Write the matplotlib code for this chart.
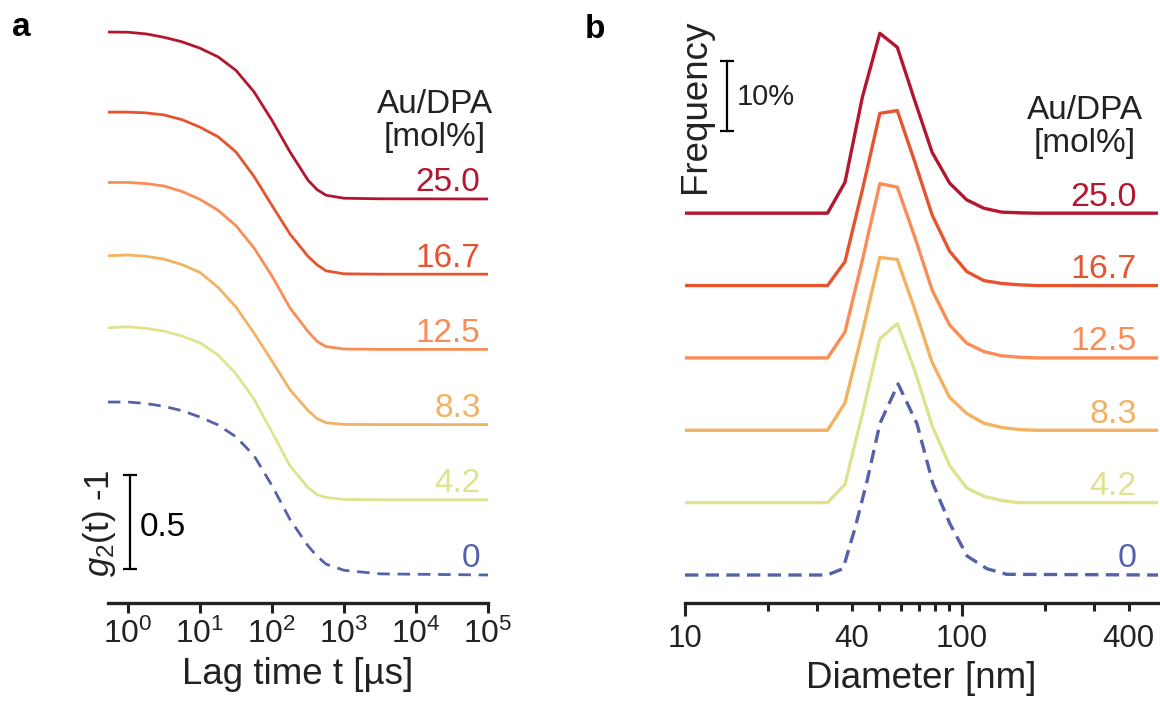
import numpy as np
import matplotlib
matplotlib.use('Agg')
import matplotlib.pyplot as plt
from matplotlib.ticker import FixedLocator, NullLocator

plt.rcParams['font.family'] = ['Liberation Sans', 'DejaVu Sans']
plt.rcParams['mathtext.fontset'] = 'custom'
plt.rcParams['mathtext.rm'] = 'Liberation Sans'
plt.rcParams['mathtext.it'] = 'Liberation Sans:italic'

# ---- data ----
labels = ['25.0', '16.7', '12.5', '8.3', '4.2', '0']
colors = ['#b3162f', '#e5532f', '#fa8c56', '#f3b262', '#dfe38f', '#5661aa']

# panel a: g2(t)-1 vs lag time [us]
lag = [0.525, 1, 1.78, 3.16, 5.62, 10, 17.8, 31.6, 56.2, 100, 178, 316, 422, 562, 1000, 3162, 100000]
g2_25 = [0.888, 0.887, 0.878, 0.860, 0.836, 0.802, 0.756, 0.684, 0.570, 0.418, 0.250, 0.100, 0.050, 0.020, 0.004, 0.001, 0]
g2_16 = [0.862, 0.862, 0.858, 0.847, 0.822, 0.782, 0.731, 0.650, 0.520, 0.365, 0.213, 0.095, 0.050, 0.018, 0.002, 0, 0]
g2_12 = [0.888, 0.888, 0.882, 0.869, 0.840, 0.798, 0.740, 0.658, 0.540, 0.390, 0.220, 0.095, 0.043, 0.015, 0.002, 0, 0]
g2_8 = [0.898, 0.902, 0.895, 0.880, 0.851, 0.809, 0.730, 0.625, 0.487, 0.338, 0.185, 0.075, 0.032, 0.010, 0.001, 0, 0]
g2_4 = [0.915, 0.920, 0.912, 0.897, 0.871, 0.835, 0.770, 0.670, 0.535, 0.360, 0.180, 0.065, 0.028, 0.012, 0.002, 0, 0]
g2_0 = [0.920, 0.920, 0.912, 0.897, 0.874, 0.840, 0.798, 0.735, 0.635, 0.475, 0.295, 0.155, 0.100, 0.058, 0.025, 0.006, 0]
g2_all = [g2_25, g2_16, g2_12, g2_8, g2_4, g2_0]

# panel b: size distribution [%] vs diameter [nm]
diam = [10, 32.7, 37.8, 43.7, 50.5, 58.4, 67.5, 78.0, 90.2, 104, 120, 139, 161, 186, 510]
freq_25 = [0, 0, 4.4, 16.6, 25.7, 23.7, 16.1, 8.7, 4.3, 1.9, 0.7, 0.15, 0.05, 0, 0]
freq_16 = [0, 0, 3.4, 13.7, 24.6, 25.0, 17.7, 10.1, 4.9, 2.0, 0.7, 0.3, 0.1, 0, 0]
freq_12 = [0, 0, 3.7, 14.0, 24.9, 24.4, 17.3, 9.7, 4.7, 2.1, 0.9, 0.3, 0.1, 0, 0]
freq_8 = [0, 0, 3.9, 14.0, 24.7, 24.4, 17.3, 9.7, 4.7, 2.4, 1.0, 0.4, 0.1, 0, 0]
freq_4 = [0, 0, 2.6, 12.7, 23.4, 25.6, 18.9, 11.0, 5.3, 2.1, 0.9, 0.3, 0, 0, 0]
freq_b = [freq_25, freq_16, freq_12, freq_8, freq_4]
diam_0 = [10, 32.6, 37.2, 41.1, 45.4, 50.6, 58.8, 68.8, 78.6, 90.5, 104.4, 123, 145, 510]
freq_0 = [0, 0, 0.9, 6.7, 13.4, 21.7, 27.3, 21.6, 13.0, 7.3, 2.7, 0.9, 0.1, 0]

step_a = 0.4
step_b = 10.34
txtc = '#222222'

fig = plt.figure(figsize=(11.6, 7.04), dpi=100)

# ---- panel a ----
ax1 = fig.add_axes([108/1160, 101/704, 380/1160, 583/704])
n = len(labels)
for i in range(n):
    off = (n - 1 - i) * step_a
    y = np.array(g2_all[i]) + off
    if labels[i] == '0':
        ax1.plot(lag, y, color=colors[i], lw=2.0, dashes=(4.5, 2.8))
    else:
        ax1.plot(lag, y, color=colors[i], lw=2.0)
    ax1.annotate(labels[i], xy=(0.98, off), xycoords=ax1.get_yaxis_transform(),
                 xytext=(0, 5.5), textcoords='offset points', ha='right', va='baseline',
                 fontsize=24, color=colors[i])
ax1.set_xscale('log')
ax1.set_xlim(0.527, 1e5)
ax1.set_ylim(-0.149, 2.952)
ax1.xaxis.set_major_locator(FixedLocator([1, 10, 100, 1e3, 1e4, 1e5]))
ax1.xaxis.set_minor_locator(NullLocator())
ax1.set_yticks([])
for s in ['left', 'top', 'right']:
    ax1.spines[s].set_visible(False)
ax1.spines['bottom'].set_linewidth(2.4)
ax1.spines['bottom'].set_color(txtc)
ax1.tick_params(axis='x', length=7, width=2.2, color=txtc, labelsize=23, labelcolor=txtc, pad=4)
ax1.set_xlabel('Lag time t [µs]', fontsize=26.5, color=txtc, labelpad=5)
# scale bar 0.5
ax1.plot([1.07, 1.07], [0.03, 0.53], color='black', lw=1.6, marker='_', markersize=10, mew=1.6)
ax1.text(1.45, 0.25, '0.5', fontsize=24, ha='left', va='center', color='black')

# ---- panel b ----
ax2 = fig.add_axes([685/1160, 101/704, 473/1160, 583/704])
for i in range(n - 1):
    off = (n - 1 - i) * step_b
    ax2.plot(diam, np.array(freq_b[i]) + off, color=colors[i], lw=2.4)
ax2.plot(diam_0, freq_0, color=colors[-1], lw=2.4, dashes=(4, 2.2))
for i in range(n):
    off = (n - 1 - i) * step_b
    ax2.annotate(labels[i], xy=(0.955, off), xycoords=ax2.get_yaxis_transform(),
                 xytext=(0, 5.5), textcoords='offset points', ha='right', va='baseline',
                 fontsize=24.5, color=colors[i])
ax2.set_xscale('log')
ax2.set_xlim(10, 510)
ax2.set_ylim(-4, 79.3)
ax2.set_xticks([10, 100], ['10', '100'])
minor = [20, 30, 40, 50, 60, 70, 80, 90, 200, 300, 400]
ax2.set_xticks(minor, ['' if m not in (40, 400) else str(m) for m in minor], minor=True)
ax2.set_yticks([])
for s in ['left', 'top', 'right']:
    ax2.spines[s].set_visible(False)
ax2.spines['bottom'].set_linewidth(2.4)
ax2.spines['bottom'].set_color(txtc)
ax2.tick_params(axis='x', which='major', length=9, width=2.2, color=txtc, labelsize=22.5,
                labelcolor=txtc, pad=6)
ax2.tick_params(axis='x', which='minor', length=6, width=2.2, color=txtc, labelsize=22.5,
                labelcolor=txtc, pad=9)
ax2.set_xlabel('Diameter [nm]', fontsize=26.5, color=txtc, labelpad=5)
# scale bar 10%
ax2.plot([14.2, 14.2], [63.4, 73.4], color='black', lw=1.6, marker='_', markersize=10, mew=1.6)
ax2.text(15.4, 68.3, '10%', fontsize=21, ha='left', va='center', color=txtc)

# ---- labels ----
fig.text(435/1160, 1 - 121/704, 'Au/DPA\n[mol%]', fontsize=24, ha='center', va='center',
         color=txtc, linespacing=1.1)
fig.text(1085/1160, 1 - 127/704, 'Au/DPA\n[mol%]', fontsize=24, ha='center', va='center',
         color=txtc, linespacing=1.1)
fig.text(99/1160, 1 - 523/704, r'$g_2$(t) -1', fontsize=25, rotation=90, ha='center',
         va='center', color=txtc)
fig.text(695/1160, 1 - 106/704, 'Frequency', fontsize=26.5, rotation=90, ha='center',
         va='center', color=txtc)
fig.text(12/1160, 1 - 28/704, 'a', fontsize=24, fontweight='bold', ha='left', va='center')
fig.text(585/1160, 1 - 30/704, 'b', fontsize=24, fontweight='bold', ha='left', va='center')

fig.savefig('out.png', dpi=100)
